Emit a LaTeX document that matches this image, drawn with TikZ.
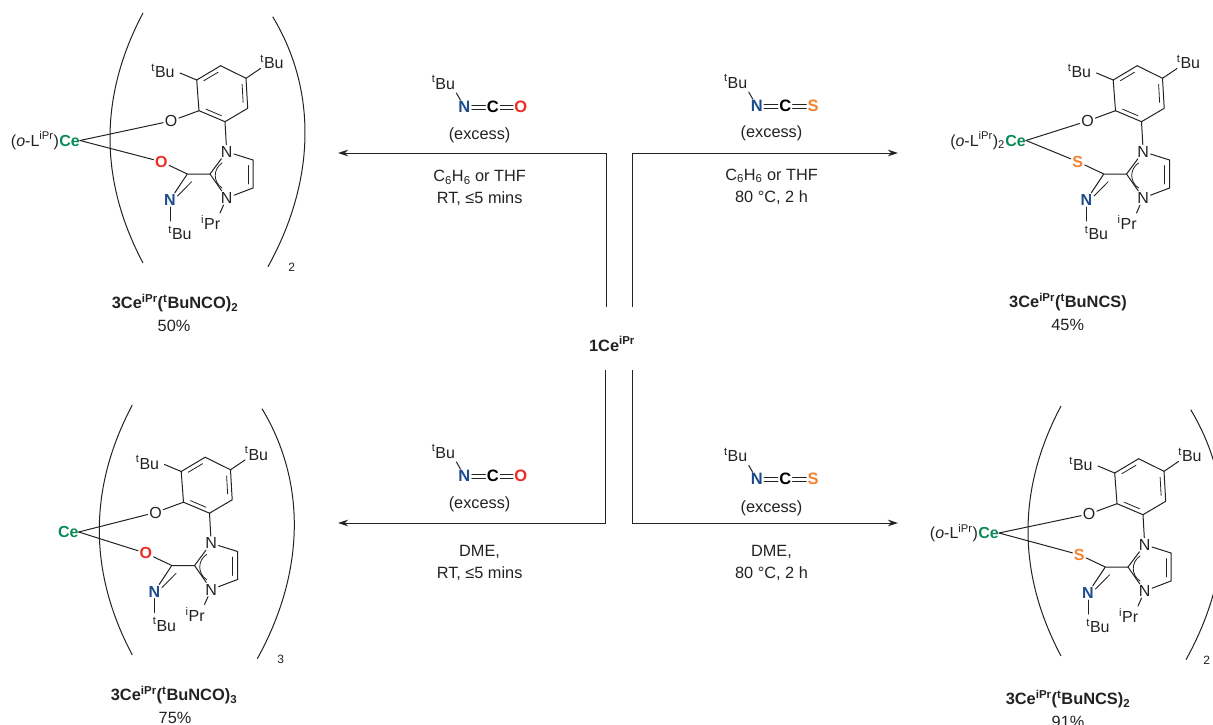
\documentclass[tikz,border=0pt]{standalone}
\usepackage{fontspec}
\setmainfont{Liberation Sans}
\usetikzlibrary{calc,arrows.meta}
\definecolor{cegreen}{HTML}{0B8A57}
\definecolor{ored}{HTML}{EE2B24}
\definecolor{nblue}{HTML}{1C4C8C}
\definecolor{sorange}{HTML}{F5822E}
\definecolor{ink}{HTML}{222222}
\newcommand\molfont{\fontsize{16}{18}\selectfont}
\newcommand\txtfont{\fontsize{16.3}{22}\selectfont}
\newcommand\capfont{\fontsize{16.4}{20}\selectfont\bfseries}
\newcommand\supr[1]{\textsuperscript{#1}}
\newcommand\subr[1]{\textsubscript{#1}}
\tikzset{
  bond/.style={draw=ink,line width=1pt,line cap=round},
  inner bond/.style={draw=ink,line width=0.8pt,line cap=round},
  bracket/.style={draw=ink,line width=1pt},
  atom/.style={inner sep=1.4pt,font=\molfont,text=ink},
  imine/.style={inner sep=1.4pt,font=\molfont\bfseries,text=nblue},
  redatom/.style={inner sep=1.4pt,font=\molfont\bfseries,text=ored},
  orangeatom/.style={inner sep=1.4pt,font=\molfont\bfseries,text=sorange},
  metal/.style={inner sep=0pt,font=\molfont\bfseries,text=cegreen,anchor=base east},
  metallabel/.style={inner sep=0pt,font=\molfont,text=ink,anchor=base east},
  txt/.style={inner sep=0pt,font=\txtfont,text=ink,align=center},
  capt/.style={inner sep=0pt,font=\capfont,text=ink},
  rule/.style={draw=ink,line width=1pt,-{Stealth[length=10pt,width=6.5pt]}},
  subnum/.style={inner sep=0pt,font=\fontsize{12}{14}\selectfont,text=ink},
  rgatom/.style={inner sep=1.2pt,font=\fontsize{16.5}{18}\selectfont\bfseries},
}
% ligand: prefix, dx, dy, style of chalcogen, chalcogen
\newcommand\ligand[5]{%
\begin{scope}[shift={(#2,#3)}]
  \coordinate (#1a) at (199,110.7);
  \coordinate (#1b) at (196.7,80);
  \coordinate (#1c) at (220.7,65.7);
  \coordinate (#1d) at (246,78.3);
  \coordinate (#1e) at (247.7,108.3);
  \coordinate (#1f) at (225,121.7);
  \coordinate (#1cen) at (222,94);
  \coordinate (#1g) at (253,160);
  \coordinate (#1h) at (253,188);
  \coordinate (#1cb) at (210,174);
  \coordinate (#1ca) at (187.3,174);
  \coordinate (#1tl) at (180,73);
  \coordinate (#1tr) at (260.5,68.5);
  \coordinate (#1tn) at (170,221);
  \coordinate (#1ip) at (220,213);
  \coordinate (#1d1) at (191.7,181.7);
  \coordinate (#1d2) at (177.5,196);
  \coordinate (#1i1) at (248,165.5);
  \coordinate (#1i2) at (248,184);
  \coordinate (#1j1) at (222,163);
  \coordinate (#1k1) at (213,169);
  \coordinate (#1k2) at (213,182);
  \coordinate (#1j3) at (222,188);
  \node[atom] (#1O) at (171,121) {O};
  \node[atom] (#1N) at (226.7,151.7) {N};
  \node[atom] (#1M) at (226.7,198) {N};
  \node[#4] (#1X) at (161.3,161.7) {#5};
  \node[imine] (#1P) at (170,200) {N};
  \node[atom] (#1T) at (163,71) {\supr{t}Bu};
  \node[atom] (#1U) at (272,62) {\supr{t}Bu};
  \node[atom] (#1V) at (180,233) {\supr{t}Bu};
  \node[atom] (#1W) at (210.7,222.7) {\supr{i}Pr};
  \draw[bond] (#1a) -- (#1b) -- (#1c) -- (#1d) -- (#1e) -- (#1f) -- cycle;
  \draw[inner bond] ($(#1a)!.14!(#1f)!.17!(#1cen)$) -- ($(#1f)!.14!(#1a)!.17!(#1cen)$);
  \draw[inner bond] ($(#1b)!.14!(#1c)!.17!(#1cen)$) -- ($(#1c)!.14!(#1b)!.17!(#1cen)$);
  \draw[inner bond] ($(#1d)!.14!(#1e)!.17!(#1cen)$) -- ($(#1e)!.14!(#1d)!.17!(#1cen)$);
  \draw[bond] (#1a) -- (#1O);
  \draw[bond] (#1f) -- (#1N);
  \draw[bond] (#1N) -- (#1g) -- (#1h) -- (#1M) -- (#1cb) -- (#1N);
  \draw[inner bond] (#1i1) -- (#1i2);
  \draw[inner bond] (#1j1) .. controls (#1k1) and (#1k2) .. (#1j3);
  \draw[bond] (#1cb) -- (#1ca) -- (#1X);
  \draw[bond] (#1ca) -- (#1P);
  \draw[inner bond] (#1d1) -- (#1d2);
  \draw[bond] (#1tl) -- (#1b);
  \draw[bond] (#1tr) -- (#1d);
  \draw[bond] (#1P) -- (#1tn);
  \draw[bond] (#1M) -- (#1ip);
\end{scope}}
% pair of brackets: prefix, dx, dy
\newcommand\brackets[3]{%
\begin{scope}[shift={(#2,#3)}]
  \coordinate (#1lt) at (143,13);
  \coordinate (#1la) at (99,96);
  \coordinate (#1lc) at (99,180);
  \coordinate (#1lb) at (143,263);
  \coordinate (#1rt) at (272.7,16.7);
  \coordinate (#1ra) at (317,90);
  \coordinate (#1rc) at (316,180);
  \coordinate (#1rb) at (268,266.7);
  \draw[bracket] (#1lt) .. controls (#1la) and (#1lc) .. (#1lb);
  \draw[bracket] (#1rt) .. controls (#1ra) and (#1rc) .. (#1rb);
\end{scope}}
% reagent: prefix, x, y (of N), last atom, colour
\newcommand\reagent[5]{%
\begin{scope}[shift={(#2,#3)}]
  \node[atom] (#1t) at (-21,-24.5) {\supr{t}Bu};
  \node[rgatom,text=nblue] (#1n) at (0,0) {N};
  \node[rgatom,text=black] (#1c) at (28.5,0) {C};
  \node[rgatom,text=#5] (#1x) at (56.5,0) {#4};
  \coordinate (#1b) at (-8,-14);
  \draw[bond] (#1b) -- (#1n);
  \draw[inner bond] ([yshift=1.9pt]#1n.east) -- ([yshift=1.9pt]#1c.west);
  \draw[inner bond] ([yshift=-1.9pt]#1n.east) -- ([yshift=-1.9pt]#1c.west);
  \draw[inner bond] ([yshift=1.9pt]#1c.east) -- ([yshift=1.9pt]#1x.west);
  \draw[inner bond] ([yshift=-1.9pt]#1c.east) -- ([yshift=-1.9pt]#1x.west);
\end{scope}}
\begin{document}
\begin{tikzpicture}[x=1pt,y=-1pt]
\useasboundingbox (0,0) rectangle (1213,725);
\clip (0,0) rectangle (1213,725);
% top-left
\brackets{ba}{0}{0}
\ligand{a}{0}{0}{redatom}{O}
\node[metal] (ace) at (80,146) {Ce};
\node[metallabel] (alab) at (ace.base west) {(\textit{o}-L\supr{iPr})};
\draw[bond] (ace.east) -- (aO);
\draw[bond] (ace.east) -- (aX);
\node[subnum] (asub) at (291.7,267.7) {2};
\node[capt] (acap) at (175,303) {3Ce\supr{iPr}(\supr{t}BuNCO)\subr{2}};
\node[txt] (ayld) at (174,326) {50\%};
% top-right
\ligand{b}{916.5}{0}{orangeatom}{S}
\node[metal] (bce) at (1026,146) {Ce};
\node[metallabel] (blab) at (bce.base west) {(\textit{o}-L\supr{iPr})\subr{2}};
\draw[bond] (bce.east) -- (bO);
\draw[bond] (bce.east) -- (bX);
\node[capt] (bcap) at (1068,302) {3Ce\supr{iPr}(\supr{t}BuNCS)};
\node[txt] (byld) at (1067.7,325) {45\%};
% bottom-left
\brackets{bc}{-10.7}{392}
\ligand{c}{-15.5}{391.5}{redatom}{O}
\node[metal] (cce) at (78.7,537.5) {Ce};
\draw[bond] (cce.east) -- (cO);
\draw[bond] (cce.east) -- (cX);
\node[subnum] (csub) at (280.7,659) {3};
\node[capt] (ccap) at (174,695) {3Ce\supr{iPr}(\supr{t}BuNCO)\subr{3}};
\node[txt] (cyld) at (175,718) {75\%};
% bottom-right
\brackets{bd}{918}{393}
\ligand{d}{918}{393}{orangeatom}{S}
\node[metal] (dce) at (999,538.5) {Ce};
\node[metallabel] (dlab) at (dce.base west) {(\textit{o}-L\supr{iPr})};
\draw[bond] (dce.east) -- (dO);
\draw[bond] (dce.east) -- (dX);
\node[subnum] (dsub) at (1206.7,660.7) {2};
\node[capt] (dcap) at (1068,699) {3Ce\supr{iPr}(\supr{t}BuNCS)\subr{2}};
\node[txt] (dyld) at (1068,722) {91\%};
% centre
\node[capt] (start) at (612,344) {1Ce\supr{iPr}};
\coordinate (s1) at (606,307);
\coordinate (s2) at (606,153);
\coordinate (e1) at (338,153);
\coordinate (s3) at (632,307);
\coordinate (s4) at (632,153);
\coordinate (e2) at (898,153);
\coordinate (s5) at (605,370);
\coordinate (s6) at (605,523);
\coordinate (e3) at (338,523);
\coordinate (s7) at (632,370);
\coordinate (s8) at (632,523);
\coordinate (e4) at (898,523);
\draw[rule] (s1) -- (s2) -- (e1);
\draw[rule] (s3) -- (s4) -- (e2);
\draw[rule] (s5) -- (s6) -- (e3);
\draw[rule] (s7) -- (s8) -- (e4);
% reagents
\reagent{p}{464.4}{107}{O}{ored}
\reagent{q}{756.7}{106}{S}{sorange}
\reagent{r}{464.4}{476}{O}{ored}
\reagent{u}{756.7}{479.3}{S}{sorange}
\node[txt] (pex) at (479.6,135) {(excess)};
\node[txt] (qex) at (771.5,133) {(excess)};
\node[txt] (rex) at (479.6,504.7) {(excess)};
\node[txt] (uex) at (771.5,508) {(excess)};
\node[txt] (pcond) at (479.6,188) {C\subr{6}H\subr{6} or THF\\RT, ≤5 mins};
\node[txt] (qcond) at (771.5,186.4) {C\subr{6}H\subr{6} or THF\\80 °C, 2 h};
\node[txt] (rcond) at (479.6,563) {DME,\\RT, ≤5 mins};
\node[txt] (ucond) at (771.5,563) {DME,\\80 °C, 2 h};
\end{tikzpicture}
\end{document}
